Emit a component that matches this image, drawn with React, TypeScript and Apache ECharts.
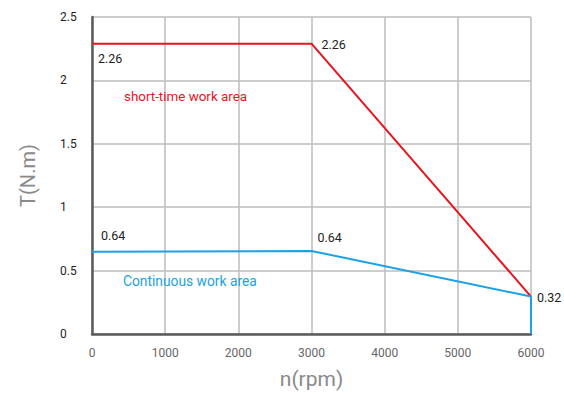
import React, { useEffect, useRef } from "react";
import * as echarts from "echarts";

const xTicks = [0, 1000, 2000, 3000, 4000, 5000, 6000];
const shortTimeX = [0, 3000, 6000];
const shortTimeY = [2.29, 2.29, 0.295];
const continuousX = [0, 3000, 6000, 6000];
const continuousY = [0.648, 0.655, 0.295, 0];
const shortLabels = ["2.26", "2.26"];
const contLabels = ["0.64", "0.64", "0.32"];
const areaNames = ["short-time work area", "Continuous work area"];

const RED = "#e8141e";
const BLUE = "#1ba1e6";
const FONT = "Roboto, 'Noto Sans', sans-serif";

export default function App() {
  const ref = useRef<HTMLDivElement>(null);
  useEffect(() => {
    if (!ref.current) return;
    const chart = echarts.init(ref.current, undefined, { renderer: "svg" });
    const lbl = (color: string, size: number, offset: number[]) => ({
      show: true,
      color,
      fontSize: size,
      fontFamily: FONT,
      position: "inside",
      align: "left",
      verticalAlign: "middle",
      offset,
    });
    chart.setOption({
      animation: false,
      grid: { left: 92, right: 33, top: 17, bottom: 58 },
      xAxis: {
        type: "value",
        min: 0,
        max: 6000,
        interval: 1000,
        name: "n(rpm)",
        nameLocation: "middle",
        nameGap: 34,
        nameTextStyle: { color: "#8a8a8a", fontSize: 21, fontFamily: FONT },
        axisLine: { show: true, onZero: false, lineStyle: { color: "#5a5a5a", width: 2.5 } },
        axisTick: { show: false },
        axisLabel: { color: "#666", fontSize: 12, fontFamily: FONT, margin: 13, formatter: (v: number) => (xTicks.includes(v) ? String(v) : "") },
        splitLine: { show: true, lineStyle: { color: "#bdbdbd", width: 1.5 } },
      },
      yAxis: {
        type: "value",
        min: 0,
        max: 2.5,
        interval: 0.5,
        name: "T(N.m)",
        nameLocation: "middle",
        nameGap: 54,
        nameRotate: 90,
        nameTextStyle: { color: "#8a8a8a", fontSize: 20, fontFamily: FONT },
        axisLine: { show: true, lineStyle: { color: "#5a5a5a", width: 2.5 } },
        axisTick: { show: false },
        axisLabel: { color: "#222", fontSize: 12, fontFamily: FONT, align: "left", margin: 32 },
        splitLine: { show: true, lineStyle: { color: "#bdbdbd", width: 1.5 } },
      },
      series: [
        {
          type: "line",
          data: shortTimeX.map((x, i) => [x, shortTimeY[i]]),
          symbol: "none",
          lineStyle: { color: RED, width: 2 },
          markPoint: {
            symbol: "circle",
            symbolSize: 0,
            data: [
              { coord: [shortTimeX[0], shortTimeY[0]], label: { ...lbl("#222", 12.5, [6, 15]), formatter: shortLabels[0] } },
              { coord: [shortTimeX[1], shortTimeY[1]], label: { ...lbl("#222", 12.5, [10, 1]), formatter: shortLabels[1] } },
              { coord: [shortTimeX[0], shortTimeY[0]], label: { ...lbl(RED, 13.4, [32, 53]), formatter: areaNames[0] } },
            ],
          },
        },
        {
          type: "line",
          data: continuousX.map((x, i) => [x, continuousY[i]]),
          symbol: "none",
          lineStyle: { color: BLUE, width: 2 },
          markPoint: {
            symbol: "circle",
            symbolSize: 0,
            data: [
              { coord: [continuousX[0], continuousY[0]], label: { ...lbl("#222", 12.5, [9, -16]), formatter: contLabels[0] } },
              { coord: [continuousX[1], continuousY[1]], label: { ...lbl("#222", 12.5, [6, -13]), formatter: contLabels[1] } },
              { coord: [continuousX[2], continuousY[2]], label: { ...lbl("#222", 12.5, [6, 1]), formatter: contLabels[2] } },
              { coord: [continuousX[0], continuousY[0]], label: { ...lbl(BLUE, 13.8, [31, 29]), formatter: areaNames[1] } },
            ],
          },
        },
      ],
    });
    return () => chart.dispose();
  }, []);
  return <div ref={ref} style={{ width: 564, height: 394, position: "absolute", left: 0, top: 0 }} />;
}
